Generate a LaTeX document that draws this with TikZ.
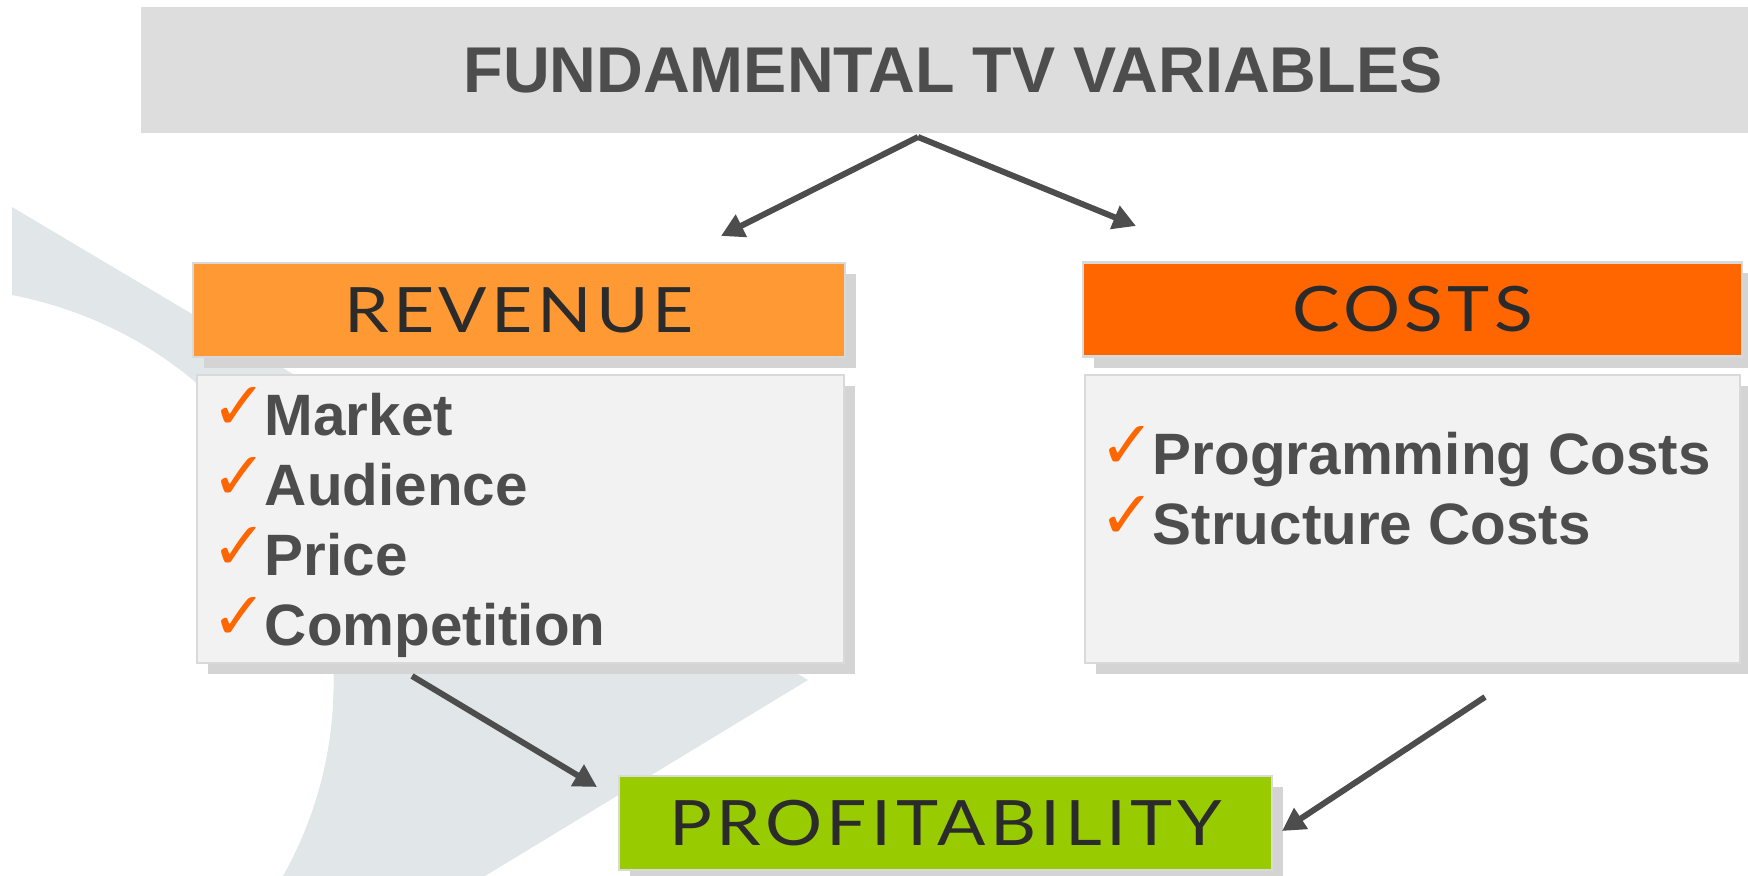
\documentclass[tikz,border=0pt]{standalone}
\usepackage{fontspec}
\setmainfont{Liberation Sans}
\newfontfamily\headfont[LetterSpace=7,FakeStretch=1.14]{Lato}
\newfontfamily\checkfont{DejaVu Sans}
\usetikzlibrary{arrows.meta,shadows}

\definecolor{titlegray}{HTML}{DDDDDD}
\definecolor{textgray}{HTML}{4D4D4D}
\definecolor{headtext}{HTML}{2B2B2B}
\definecolor{revorange}{HTML}{FF9933}
\definecolor{costorange}{HTML}{FF6600}
\definecolor{profgreen}{HTML}{99CC00}
\definecolor{listgray}{HTML}{F2F2F2}
\definecolor{edgegray}{HTML}{D9D9D9}
\definecolor{shadowgray}{HTML}{D4D4D4}
\definecolor{swooshgray}{HTML}{E1E6E9}

\newcommand{\tick}{\raisebox{1.5pt}{\color{costorange}\checkfont\fontsize{19}{19}\selectfont ✓}\kern-0.8pt}

\begin{document}
\begin{tikzpicture}[x=0.01cm,y=-0.01cm,
  box/.style={draw=edgegray,line width=0.6pt,inner sep=0,
    drop shadow={shadow xshift=0.11cm,shadow yshift=-0.11cm,fill=shadowgray,opacity=1}},
  head/.style={box,minimum height=0.94cm,text=headtext,
    font=\headfont\fontsize{17.8}{18}\selectfont},
  listbox/.style={box,fill=listgray,minimum height=2.88cm},
  item/.style={anchor=base west,inner sep=0,text=textgray,
    font=\bfseries\fontsize{16.6}{18}\selectfont},
  flow/.style={draw=textgray,line width=1.7pt,-{Triangle[length=6.5pt,width=6.8pt]}}]
  \useasboundingbox (0,0) rectangle (1748,876);

  % background swoosh
  \fill[swooshgray] (12,207) -- (808,680) -- (485,876) -- (283,876)
    .. controls (410,650) and (290,350) .. (12,295) -- cycle;

  % title banner
  \node[fill=titlegray,minimum width=16.24cm,minimum height=1.26cm,inner sep=0,
    text=textgray,font=\bfseries\fontsize{18.4}{20}\selectfont] (title) at (953,70)
    {FUNDAMENTAL TV VARIABLES};

  % revenue side
  \node[head,fill=revorange,minimum width=6.52cm] (revenue) at (519,310) {REVENUE};
  \node[listbox,minimum width=6.47cm] (revlist) at (520.5,519) {};
  \foreach \txt [count=\i] in {Market,Audience,Price,Competition}
    \node[item] (rev\i) at (211,{365+70*\i}) {\tick\txt};

  % costs side
  \node[head,fill=costorange,minimum width=6.59cm] (costs) at (1412.5,309.5) {COSTS};
  \node[listbox,minimum width=6.55cm] (costlist) at (1412.5,519) {};
  \foreach \txt [count=\i] in {Programming Costs,Structure Costs}
    \node[item] (cost\i) at (1099,{404+70*\i}) {\tick\txt};

  % result
  \node[head,fill=profgreen,minimum width=6.53cm] (profit) at (945.5,823) {PROFITABILITY};

  % arrows
  \coordinate (split) at (918,137);
  \coordinate (revin) at (721,236);
  \coordinate (costin) at (1136,226);
  \coordinate (revout) at (412,676);
  \coordinate (profleft) at (597,787);
  \coordinate (costout) at (1485,697);
  \coordinate (profright) at (1282,831);
  \draw[flow] (split) -- (revin);
  \draw[flow] (split) -- (costin);
  \draw[flow] (revout) -- (profleft);
  \draw[flow] (costout) -- (profright);
\end{tikzpicture}
\end{document}
